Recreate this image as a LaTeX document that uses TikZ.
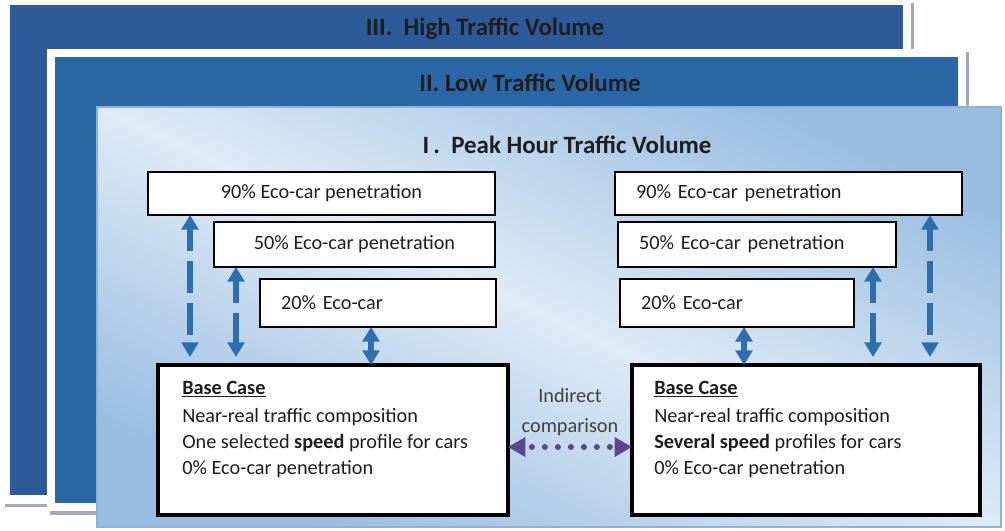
\documentclass[tikz,border=0pt]{standalone}
\usepackage{fontspec}
\setmainfont{Carlito}
\usetikzlibrary{arrows.meta,calc}

\definecolor{panelhigh}{HTML}{2D5A98}
\definecolor{panellow}{HTML}{2B66A5}
\definecolor{shadowgray}{HTML}{A3A9B8}
\definecolor{arrowblue}{HTML}{2E6DAE}
\definecolor{cmppurple}{HTML}{5B478E}
\definecolor{glowlight}{HTML}{DFEBF6}
\definecolor{glowdark}{HTML}{98BDE1}
\definecolor{panelrim}{HTML}{8DB2D8}
\definecolor{ink}{HTML}{1E1E1E}

\tikzset{
  title/.style={font=\fontsize{18.7pt}{22pt}\selectfont\bfseries, text=ink},
  body/.style={font=\fontsize{15.2pt}{19.5pt}\selectfont, text=ink},
  level/.style={draw=black, line width=1.5pt, fill=white, outer sep=0pt, inner sep=0pt, body},
  levelleft/.style={level, inner xsep=15.75pt, align=left},
  basebox/.style={draw=black, line width=2.6pt, fill=white, outer sep=0pt, inner sep=0pt},
  link/.style={draw=arrowblue, line width=3.8pt,
    {Triangle[width=12.5pt,length=11pt]}-{Triangle[width=12.5pt,length=11pt]}},
  dashlink/.style={link, dash pattern=on 24pt off 7.5pt, dash phase=7.5pt},
  cmp/.style={draw=cmppurple, line width=4.5pt, line cap=round,
    dash pattern=on 0pt off 9.75pt, dash phase=4pt,
    {Triangle[width=14pt,length=13pt]}-{Triangle[width=14pt,length=13pt]}},
}

\begin{document}
\begin{tikzpicture}[x=0.75pt,y=-0.75pt]
\useasboundingbox (0,0) rectangle (1005,531);
\clip (0,0) rectangle (1005,531);

% panel III (back)
\fill[shadowgray] (5,3) rectangle (914,507);
\fill[white] (0,-5) rectangle (911,504);
\fill[panelhigh] (10,5) rectangle (903,495);
\node[title] (t3) at (485,29) {III.\ \ High Traffic Volume};

% panel II (middle)
\fill[shadowgray] (50,52) rectangle (969,515);
\fill[white] (47,49) rectangle (966,511);
\fill[panellow] (55,57) rectangle (958,503);
\node[title] (t2) at (530,83) {II. Low Traffic Volume};

% panel I (front): light along the falling diagonal, deeper blue in the other corners
\shade[top color=glowdark, bottom color=glowdark, middle color=glowlight, shading angle=-25]
  (97,107) rectangle (1001,527);
\draw[panelrim, line width=1pt] (97,107) rectangle (1001,527);
\node[title] (t1) at (567,145) {I\,.\ \ Peak Hour Traffic Volume};

% left column of penetration levels
\node[level, minimum width=260.25pt, minimum height=32.25pt] (l90) at (321.5,193.5) {90\% Eco-car penetration};
\node[level, minimum width=210.75pt, minimum height=33.75pt] (l50) at (354.5,244.5) {50\% Eco-car penetration};
\node[levelleft, text width=145.5pt, minimum height=36pt] (l20) at (378,303) {20\% Eco-car};

% right column of penetration levels
\node[levelleft, text width=228.75pt, minimum height=32.25pt] (r90) at (788.5,193.5) {90\% Eco-car penetration};
\node[levelleft, text width=177pt, minimum height=33.75pt] (r50) at (757,244.5) {50\% Eco-car penetration};
\node[levelleft, text width=144pt, minimum height=36pt] (r20) at (737,303) {20\% Eco-car};

% base cases
\node[basebox, minimum width=262.5pt, minimum height=112.5pt] (lbase) at (333,440) {};
\node[basebox, minimum width=261pt, minimum height=112.5pt] (rbase) at (806,440) {};
\node[body, inner sep=0pt, anchor=base west, align=left] (ltext) at ($(lbase.north west)+(24,109)$)
  {\textbf{\underline{Base Case}}\\[1.5pt]
   Near-real traffic composition\\
   One selected \textbf{speed} profile for cars\\
   0\% Eco-car penetration};
\node[body, inner sep=0pt, anchor=base west, align=left] (rtext) at ($(rbase.north west)+(22,109)$)
  {\textbf{\underline{Base Case}}\\[1.5pt]
   Near-real traffic composition\\
   \textbf{Several speed} profiles for cars\\
   0\% Eco-car penetration};

% attachment points of the links on the level boxes
\coordinate (a90) at ($(l90.south west)+(42,0)$);
\coordinate (a50) at ($(l50.south west)+(22,0)$);
\coordinate (a20) at ($(l20.south west)+(111,0)$);
\coordinate (b20) at ($(r20.south west)+(124,0)$);
\coordinate (b50) at ($(r50.south east)+(-23,0)$);
\coordinate (b90) at ($(r90.south east)+(-32,0)$);

% links between levels and base cases
\draw[dashlink, shorten >=6pt] (a90) -- (a90 |- lbase.north);
\draw[dashlink, shorten >=6pt] (a50) -- (a50 |- lbase.north);
\draw[link] (a20) -- (a20 |- lbase.north);

\draw[link] (b20) -- (b20 |- rbase.north);
\draw[dashlink, shorten >=6pt] (b50) -- (b50 |- rbase.north);
\draw[dashlink, shorten >=6pt] (b90) -- (b90 |- rbase.north);

% indirect comparison between the two base cases
\draw[cmp] ([yshift=-5.25pt]lbase.east) -- ([yshift=-5.25pt]rbase.west);
\node[body, align=center, text=ink!85, font=\fontsize{15.2pt}{22.5pt}\selectfont] (cmplabel) at (570,412) {Indirect\\comparison};
\end{tikzpicture}
\end{document}
